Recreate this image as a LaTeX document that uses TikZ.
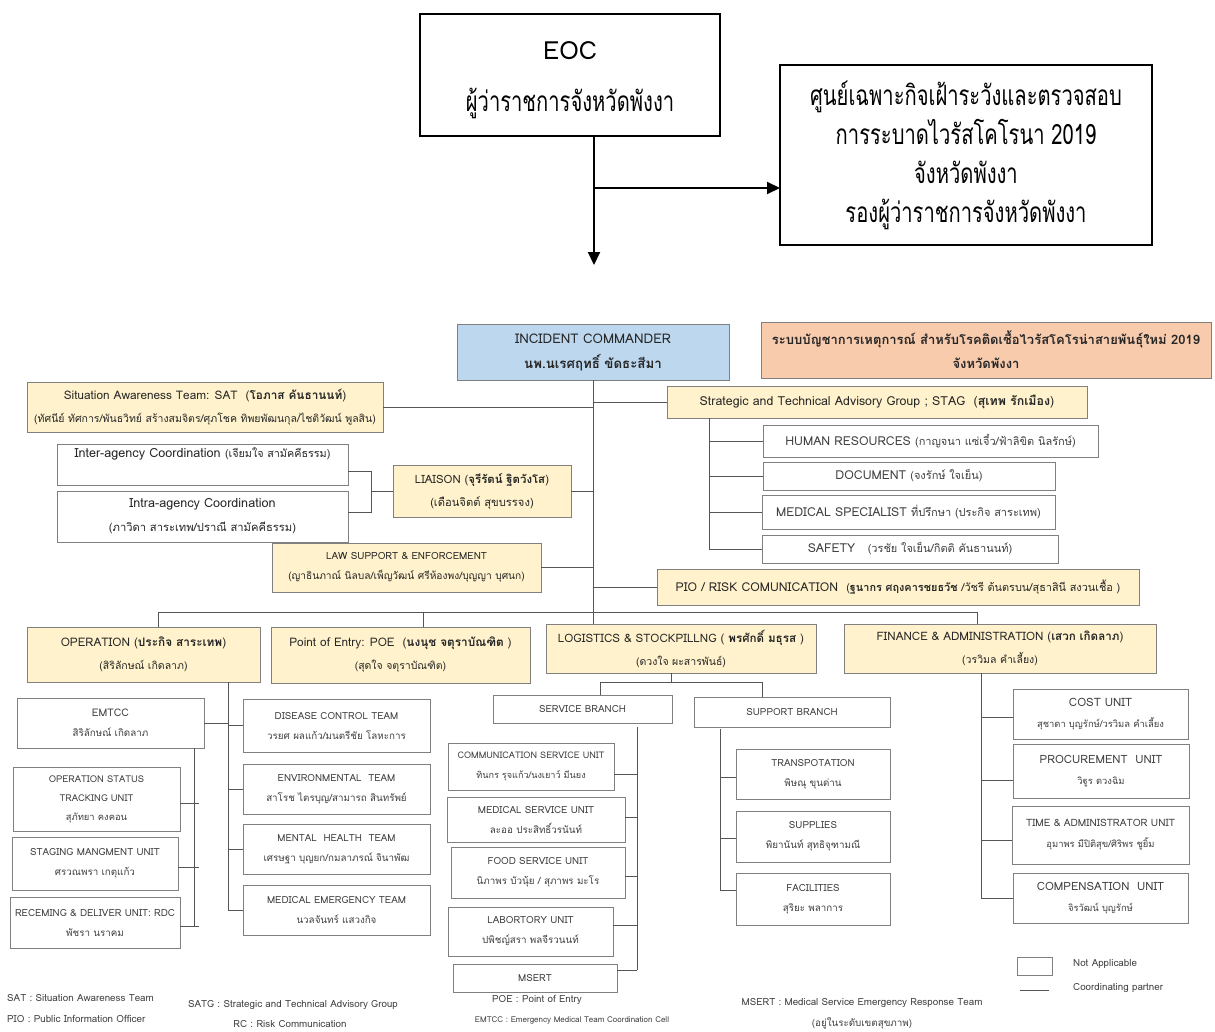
\documentclass[tikz,border=0pt]{standalone}
\usepackage{fontspec}
\setmainfont[Script=Thai]{Loma}
\newfontfamily\cond[Script=Thai,FakeStretch=0.72]{Loma}
\usetikzlibrary{arrows.meta,calc}
\definecolor{icblue}{HTML}{BDD7EE}
\definecolor{ttlorange}{HTML}{F8CBAD}
\definecolor{teamyellow}{HTML}{FFF2CC}
\definecolor{edge}{HTML}{808080}
\definecolor{ink}{HTML}{262626}
\definecolor{soft}{HTML}{404040}
\definecolor{wire}{HTML}{555555}
\newcommand\fs[2]{\fontsize{#1}{#2}\selectfont}
% box with given corners: name, style, x1, y1, x2, y2, text
\newcommand\bx[7]{%
  \node[#2, minimum width={(#5-#3)*1pt}, minimum height={(#6-#4)*1pt}]
    (#1) at ({(#3+#5)/2},{(#4+#6)/2}) {#7};}
\tikzset{
  base/.style={inner sep=0pt, outer sep=0pt, align=center, text=ink},
  topbox/.style={base, draw=black, line width=1.5pt, fill=white, text=black,
    font={\cond\fs{28}{39}}},
  unitbox/.style={base, draw=edge, line width=1pt, fill=white,
    font={\fs{9.8}{20}}, text=soft},
  teambox/.style={base, draw=edge, line width=1pt, fill=teamyellow,
    font={\fs{11.8}{23}}},
  conn/.style={draw=wire, line width=1pt},
  arr/.style={draw=black, line width=2pt, -{Triangle[length=13pt,width=12pt]}},
  note/.style={inner sep=0pt, text=soft, font={\fs{9.8}{20}}, align=center},
}
\begin{document}
\begin{tikzpicture}[x=1pt,y=-1pt]
\useasboundingbox[fill=white] (0,0) rectangle (1215,1031);

% ---- command centre at the top ----
\bx{eoc}{topbox, font={\cond\fs{28}{52}}}{420}{14}{720}{136}{\rule{0pt}{28pt}{\normalfont\fs{25}{52}EOC}\\ ผู้ว่าราชการจังหวัดพังงา}
\bx{cen}{topbox}{780}{65}{1152}{245}{ศูนย์เฉพาะกิจเฝ้าระวังและตรวจสอบ\\ การระบาดไวรัสโคโรนา 2019\\ จังหวัดพังงา\\ รองผู้ว่าราชการจังหวัดพังงา}
\coordinate (arrtip) at (594,265);
\coordinate (junc) at (594,188);
\draw[arr] (eoc.south -| arrtip) -- (arrtip);
\draw[arr] (junc) -- (junc -| cen.west);

% ---- incident command ----
\bx{ic}{teambox, fill=icblue, font={\fs{13.3}{25}}}{457}{324}{729}{380}{INCIDENT COMMANDER\\ \textbf{นพ.นเรศฤทธิ์  ขัดธะสีมา}}
\bx{ttl}{teambox, fill=ttlorange, font={\bfseries\fs{13}{24}}}{761}{322}{1211}{378}{ระบบบัญชาการเหตุการณ์ สำหรับโรคติดเชื้อไวรัสโคโรน่าสายพันธุ์ใหม่ 2019\\ จังหวัดพังงา}

\bx{sat}{teambox}{27}{382}{383}{432}{Situation Awareness Team: SAT \ (\textbf{โอภาส คันธานนท์})\\ {\fs{10.5}{23}(ทัศนีย์  ทัศการ/พันธวิทย์ สร้างสมจิตร/ศุภโชค  ทิพยพัฒนกุล/ไชติวัฒน์  พูลสิน)}}
\bx{stag}{teambox, font={\fs{12.4}{23}}}{667}{386}{1087}{418}{Strategic and Technical Advisory Group ; STAG \ (\textbf{สุเทพ  รักเมือง})}
\bx{hr}{unitbox, font={\fs{12.3}{20}}}{763}{425}{1098}{457}{HUMAN RESOURCES {\fs{11}{20}(กาญจนา  แซ่เจี๋ว/ฟ้าลิขิต  นิลรักษ์)}}
\bx{doc}{unitbox, font={\fs{12.3}{20}}}{763}{462}{1055}{490}{DOCUMENT {\fs{11}{20}(จงรักษ์  ใจเย็น)}}
\bx{msp}{unitbox, font={\fs{12.3}{20}}}{762}{495}{1055}{529}{MEDICAL SPECIALIST {\fs{11}{20}ที่ปรึกษา (ประกิจ  สาระเทพ)}}
\bx{saf}{unitbox, font={\fs{12.3}{20}}}{762}{535}{1058}{563}{SAFETY \ \ {\fs{11}{20}(วรชัย  ใจเย็น/กิตติ  คันธานนท์)}}
\bx{pio}{teambox, font={\fs{12.2}{23}}}{657}{569}{1139}{605}{PIO / RISK COMUNICATION \ {\fs{10.9}{23}(\textbf{ฐนากร  ศฤงคารชยธวัช} /วัชรี  ต้นตรบน/สุธาสินี  สงวนเชื้อ )}}

\bx{inter}{unitbox, font={\fs{12.6}{24}}, text=ink}{57}{444}{348}{485}{Inter-agency Coordination {\fs{10.8}{24}(เจียมใจ  สามัคคีธรรม)}\\ \mbox{}}
\bx{intra}{unitbox, font={\fs{12.6}{24}}, text=ink}{57}{491}{348}{542}{Intra-agency Coordination\\ {\fs{11.2}{24}(ภาวิดา  สาระเทพ/ปราณี  สามัคคีธรรม)}}
\bx{lia}{teambox, font={\fs{11.4}{23}}}{393}{465}{571}{517}{LIAISON (\textbf{จุรีรัตน์ ฐิตวังโส})\\ {\fs{11.2}{23}(เดือนจิตต์  สุขบรรจง)}}
\bx{law}{teambox, font={\fs{9.9}{20}}}{272}{543}{541}{592}{LAW SUPPORT \& ENFORCEMENT\\ {\fs{10.2}{20}(ญาธินภาณ์  นิลบล/เพ็ญวัฒน์ ศรีห้องพง/บุญญา บุศนก)}}

% ---- sections ----
\bx{op}{teambox}{27}{627}{260}{682}{OPERATION (\textbf{ประกิจ  สาระเทพ})\\ {\fs{10.5}{23}(สิริลักษณ์  เกิดลาภ)}}
\bx{poe}{teambox}{271}{627}{530}{683}{Point of Entry: POE \ (\textbf{นงนุช  จตุราบัณฑิต} )\\ {\fs{10.5}{23}(สุดใจ จตุราบัณฑิต)}}
\bx{log}{teambox, font={\fs{11.6}{23}}}{546}{624}{816}{673}{LOGISTICS \& STOCKPILLNG ( \textbf{พรศักดิ์  มธุรส} )\\ {\fs{10.5}{23}(ดวงใจ ผะสารพันธ์)}}
\bx{fin}{teambox, font={\fs{11.6}{23}}}{844}{624}{1156}{673}{FINANCE \& ADMINISTRATION (\textbf{เสวก  เกิดลาภ})\\ {\fs{10.5}{23}(วรวิมล คำเลี้ยง)}}

% ---- operation units ----
\bx{emtcc}{unitbox}{17}{698}{204}{748}{{\fs{10.5}{20}EMTCC}\\ สิริลักษณ์  เกิดลาภ}
\bx{ops}{unitbox, font={\fs{9.4}{19}}}{13}{767}{180}{831}{OPERATION STATUS\\ TRACKING UNIT\\ สุภัทยา  คงคอน}
\bx{stg}{unitbox}{12}{837}{178}{890}{STAGING MANGMENT UNIT\\ ศรวณพรา   เกตุแก้ว}
\bx{rdc}{unitbox}{10}{897}{180}{948}{RECEMING \& DELIVER UNIT: RDC\\ พัชรา  นราคม}
\bx{dis}{unitbox}{243}{699}{430}{752}{DISEASE CONTROL TEAM\\ วรยศ  ผลแก้ว/มนตรีชัย  โลหะการ}
\bx{env}{unitbox}{243}{764}{430}{814}{ENVIRONMENTAL \ TEAM\\ สาโรช  ไตรบุญ/สามารถ  สินทรัพย์}
\bx{mh}{unitbox}{243}{824}{430}{874}{MENTAL \ HEALTH \ TEAM\\ เศรษฐา บุญยก/กมลาภรณ์  จินาพัฒ}
\bx{me}{unitbox}{243}{885}{430}{935}{MEDICAL EMERGENCY TEAM\\ นวลจันทร์  แสวงกิจ}

% ---- logistics units ----
\bx{svc}{unitbox}{493}{695}{672}{723}{SERVICE BRANCH}
\bx{sup}{unitbox}{694}{697}{890}{727}{SUPPORT BRANCH}
\bx{com}{unitbox, font={\fs{9.1}{20}}}{448}{743}{614}{790}{COMMUNICATION SERVICE UNIT\\ ทินกร รุจแก้ว/นงเยาว์  มีนยง}
\bx{msu}{unitbox}{447}{797}{625}{842}{MEDICAL SERVICE UNIT\\ ละออ ประสิทธิ์วรนันท์}
\bx{food}{unitbox}{451}{847}{625}{898}{FOOD SERVICE UNIT\\ นิภาพร  บัวนุ้ย / สุภาพร มะโร}
\bx{lab}{unitbox}{448}{907}{613}{956}{LABORTORY UNIT\\ ปพิชญ์สรา  พลจีรวนนท์}
\bx{msert}{unitbox}{453}{964}{617}{992}{MSERT}
\bx{trn}{unitbox}{736}{749}{890}{799}{TRANSPOTATION\\ พิษณุ  ขุนด่าน}
\bx{spl}{unitbox}{736}{811}{890}{862}{SUPPLIES\\ พิยานันท์ สุทธิจุฑามณี}
\bx{fac}{unitbox}{736}{873}{890}{925}{FACILITIES\\ สุริยะ   พลาการ}

% ---- finance units ----
\bx{cost}{unitbox, font={\fs{11.5}{21}}}{1013}{689}{1188}{739}{COST UNIT\\ {\fs{9.4}{21}สุชาดา บุญรักษ์/วรวิมล คำเลี้ยง}}
\bx{proc}{unitbox, font={\fs{11.4}{21}}}{1013}{744}{1189}{798}{PROCUREMENT \ UNIT\\ {\fs{9.4}{21}วิฐูร ดวงฉิม}}
\bx{time}{unitbox, font={\fs{10.1}{21}}}{1012}{806}{1189}{864}{TIME \& ADMINISTRATOR UNIT\\ {\fs{9.4}{21}อุมาพร  มีปิติสุข/ศิริพร  ชูยิ้ม}}
\bx{comp}{unitbox, font={\fs{11.4}{21}}}{1013}{873}{1188}{923}{COMPENSATION \ UNIT\\ {\fs{9.4}{21}จิรวัฒน์  บุญรักษ์}}

% ---- connectors: command staff ----
\draw[conn] (ic.south) -- (ic.south |- log.north);
\draw[conn] (sat.east) -- (sat.east -| ic.south);
\draw[conn] (stag.west) -- (stag.west -| ic.south);
\draw[conn] (lia.east) -- (lia.east -| ic.south);
\draw[conn] (law.east) -- (law.east -| ic.south);
\draw[conn] (pio.west) -- (pio.west -| ic.south);
\coordinate (stv) at ($(stag.south west)+(42,0)$);
\draw[conn] (stv) -- (stv |- saf.west);
\foreach \b in {hr,doc,msp,saf} \draw[conn] (stv |- \b.west) -- (\b.west);
\coordinate (brk) at ($(inter.east)+(23,7)$);
\draw[conn] ($(inter.east)+(0,7)$) -- (brk) -- ($(brk |- intra.east)+(0,-4)$) -- ($(intra.east)+(0,-4)$);
\draw[conn] (brk |- lia.west) -- (lia.west);

% ---- connectors: section bus ----
\coordinate (busL) at (158,612);
\coordinate (busR) at (977,612);
\coordinate (tpoe) at (423,612);
\draw[conn] (busL) -- (busR);
\draw[conn] (busL) -- (busL |- op.north);
\draw[conn] (tpoe) -- (tpoe |- poe.north);
\draw[conn] (busR) -- (busR |- fin.north);

% ---- connectors: operation ----
\coordinate (opv) at (228,682);
\draw[conn] (opv) -- (opv |- me.west);
\foreach \b in {dis,env,mh,me} \draw[conn] (opv |- \b.west) -- (\b.west);
\draw[conn] (emtcc.east) -- (emtcc.east -| opv);
\coordinate (lcv) at (194,748);
\draw[conn] (lcv) -- ($(lcv |- rdc.east)+(0,4)$);
\foreach \b in {ops,stg,rdc} \draw[conn] ($(\b.east)+(0,4)$) -- ($(\b.east -| lcv)+(5,4)$);

% ---- connectors: logistics ----
\coordinate (lgv) at (671,682);
\coordinate (lgL) at (600,682);
\coordinate (lgR) at (762,682);
\draw[conn] (lgv |- log.south) -- (lgv);
\draw[conn] (lgL) -- (lgR);
\draw[conn] (lgL) -- (lgL |- svc.north);
\draw[conn] (lgR) -- (lgR |- sup.north);
\coordinate (svv) at (637,727);
\draw[conn] (svv) -- ($(svv |- msert.east)+(0,-8)$);
\foreach \b/\d in {com/8,msu/-2,food/4,lab/-6,msert/-8} \draw[conn] ($(\b.east)+(0,\d)$) -- ($(\b.east -| svv)+(0,\d)$);
\coordinate (spv) at (720,729);
\draw[conn] (spv) -- ($(spv |- fac.west)+(0,-9)$);
\foreach \b/\d in {trn/3,spl/2,fac/-9} \draw[conn] ($(spv |- \b.west)+(0,\d)$) -- ($(\b.west)+(0,\d)$);

% ---- connectors: finance ----
\coordinate (fnv) at (981,673);
\draw[conn] (fnv) -- (fnv |- comp.west);
\foreach \b/\d in {cost/3,proc/9,time/5,comp/0} \draw[conn] ($(fnv |- \b.west)+(0,\d)$) -- ($(\b.west)+(0,\d)$);

% ---- legend and abbreviations ----
\bx{nabox}{unitbox}{1017}{957}{1052}{975}{}
\coordinate (lg1) at (1020,990);
\coordinate (lg2) at (1049,990);
\draw[conn] (lg1) -- (lg2);
\node[note, anchor=west] (natxt) at (1073,964) {Not Applicable};
\node[note, anchor=west] (cptxt) at (1073,988) {Coordinating partner};

\node[note, anchor=west] (n1) at (7,998) {SAT : Situation Awareness Team};
\node[note, anchor=west] (n2) at (7,1019) {PIO : Public Information Officer};
\node[note] (n3) at (293,1005) {SATG : Strategic and Technical Advisory Group};
\node[note] (n4) at (290,1024) {RC : Risk Communication};
\node[note] (n5) at (537,1000) {POE : Point of Entry};
\node[note, font={\fs{8}{20}}] (n6) at (572,1020) {EMTCC : Emergency Medical Team Coordination Cell};
\node[note] (n7) at (862,1003) {MSERT : Medical Service Emergency Response Team};
\node[note] (n8) at (862,1023) {(อยู่ในระดับเขตสุขภาพ)};
\end{tikzpicture}
\end{document}
